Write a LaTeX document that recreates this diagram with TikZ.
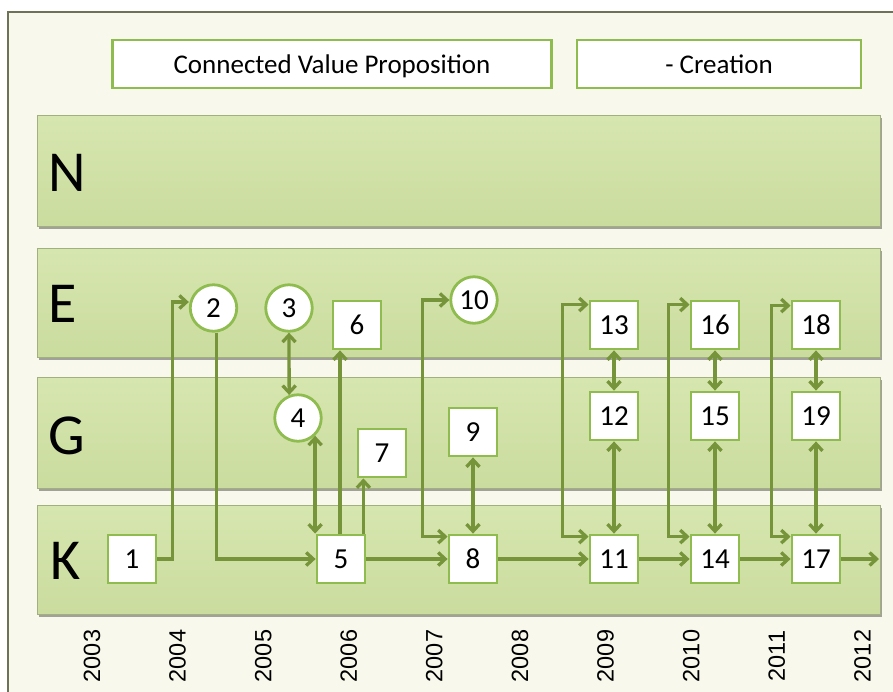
\documentclass[tikz,border=0pt]{standalone}
\usepackage{fontspec}
\setmainfont{Carlito}
\newfontfamily\yearfont{Liberation Sans}
\usetikzlibrary{arrows.meta,calc,shadows}
\definecolor{bgcream}{HTML}{F8F8EC}
\definecolor{framecol}{HTML}{6E7358}
\definecolor{bandtop}{HTML}{D6E6AF}
\definecolor{bandbot}{HTML}{CBDC9F}
\definecolor{nodeborder}{HTML}{8FBC4E}
\definecolor{arrowcol}{HTML}{76943A}
\tikzset{
  band/.style={draw=bandbot!80!black, line width=0.6pt, top color=bandtop, bottom color=bandbot,
    drop shadow={shadow xshift=1.5pt, shadow yshift=-2.5pt, opacity=0.35, fill=black}},
  header/.style={draw=nodeborder, line width=2.8pt, fill=white, minimum height=48pt, inner sep=0pt},
  headtext/.style={inner sep=0pt, font=\fontsize{27}{29}\selectfont},
  sq/.style={draw=nodeborder, line width=2.8pt, fill=white, minimum size=48pt, inner sep=0pt, font=\fontsize{29}{30}\selectfont},
  circ/.style={circle, draw=nodeborder, line width=2.8pt, fill=white, minimum size=46.5pt, inner sep=0pt, font=\fontsize{29}{30}\selectfont},
  lanelabel/.style={inner sep=0pt, font=\fontsize{58}{60}\selectfont},
  year/.style={rotate=90, inner sep=0pt, font=\yearfont\fontsize{23.5}{25}\selectfont},
  arr/.style={draw=arrowcol, line width=3.3pt, -{Straight Barb[length=7pt,width=13pt]}},
  dbl/.style={draw=arrowcol, line width=3.3pt, {Straight Barb[length=7pt,width=13pt]}-{Straight Barb[length=7pt,width=13pt]}}
}
\begin{document}
\begin{tikzpicture}[x=1pt,y=-1pt]
\useasboundingbox (0,0) rectangle (893,691);
\fill[white] (0,0) rectangle (893,691);
% frame
\draw[framecol, line width=1.5pt, fill=bgcream] (8,12) rectangle (905,705);
% headers
\node[header, minimum width=439pt] (h1) at (332,64) {};
\node[headtext, anchor=base] (t1) at ($(h1.center)+(0,9)$) {Connected Value Proposition};
\node[header, minimum width=284pt] (h2) at (719,64) {};
\node[headtext, anchor=base] (t2) at ($(h2.center)+(0,9)$) {- Creation};
% bands
\path[band] (37,115) rectangle (880,226);
\path[band] (37,248) rectangle (880,357);
\path[band] (37,377) rectangle (880,488);
\path[band] (37,505) rectangle (880,614);
% lane labels
\node[lanelabel] (lN) at (67,173) {N};
\node[lanelabel] (lE) at (63,304) {E};
\node[lanelabel] (lG) at (67,436) {G};
\node[lanelabel] (lK) at (66,561) {K};
% years
\foreach \yr [count=\i from 0] in {2003,2004,2005,2006,2007,2008,2009,2010,2011,2012}{
  \node[year] (y\yr) at (92+85.6*\i,656) {\yr};
}
% nodes
\node[sq] (n1) at (132,559) {1};
\node[circ] (n2) at (213.5,308) {2};
\node[circ] (n3) at (289,308) {3};
\node[circ] (n4) at (298,418) {4};
\node[sq] (n5) at (341,559) {5};
\node[sq] (n6) at (357,325) {6};
\node[sq] (n7) at (382,453) {7};
\node[sq] (n8) at (473,559) {8};
\node[sq] (n9) at (473,432) {9};
\node[circ] (n10) at (474,300) {10};
\node[sq] (n11) at (614,559) {11};
\node[sq] (n12) at (614,416) {12};
\node[sq] (n13) at (614,325) {13};
\node[sq] (n14) at (715,559) {14};
\node[sq] (n15) at (715,416) {15};
\node[sq] (n16) at (715,325) {16};
\node[sq] (n17) at (816,559) {17};
\node[sq] (n18) at (816,325) {18};
\node[sq] (n19) at (816,416) {19};
\coordinate (outK) at (879,559);
% connectors
\draw[arr] (n1.east) -- ++(15,0) |- ($(n2.west)+(0,-6)$);
\draw[arr] ($(n2.south)+(3,0)$) |- (n5.west);
\draw[dbl] (n3.south) -- (n4.111);
\draw[dbl] (n4.-46) -- (n4.-46 |- n5.north);
\draw[arr] ($(n5.north)+(-1,0)$) coordinate (a6) -- (a6 |- n6.south);
\draw[arr] ($(n5.north east)+(-3,0)$) coordinate (a7) -- (a7 |- n7.south);
\draw[arr] (n5.east) -- (n8.west);
\draw[arr] (n8.east) -- (n11.west);
\draw[arr] (n11.east) -- (n14.west);
\draw[arr] (n14.east) -- (n17.west);
\draw[arr] (n17.east) -- (outK);
\draw[dbl] (n9.south) -- (n8.north);
\draw[dbl] (n10.west) -- ++(-27,0) |- ($(n8.north west)+(0,3)$);
\draw[dbl] ($(n13.north west)+(0,5)$) -- ++(-26,0) |- ($(n11.north west)+(0,3)$);
\draw[dbl] ($(n16.north west)+(0,5)$) -- ++(-21,0) |- ($(n14.north west)+(0,3)$);
\draw[dbl] ($(n18.north west)+(0,6)$) -- ++(-19,0) |- ($(n17.north west)+(0,3)$);
\draw[dbl] (n13.south) -- (n12.north);
\draw[dbl] (n12.south) -- (n11.north);
\draw[dbl] (n16.south) -- (n15.north);
\draw[dbl] (n15.south) -- (n14.north);
\draw[dbl] (n18.south) -- (n19.north);
\draw[dbl] (n19.south) -- (n17.north);
\end{tikzpicture}
\end{document}
